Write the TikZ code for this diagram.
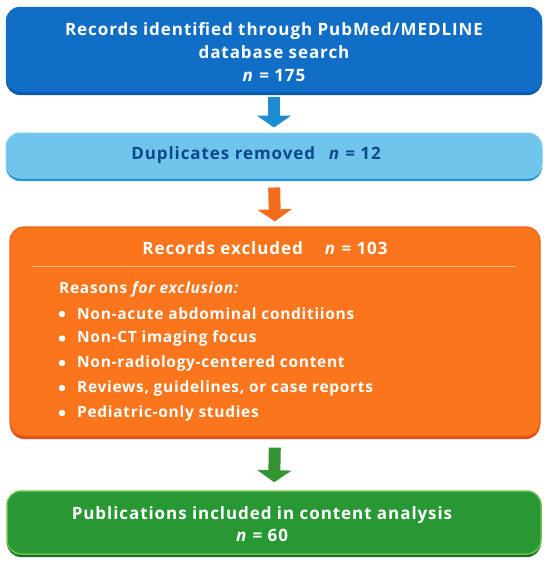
\documentclass[tikz,border=0pt]{standalone}
\usepackage{fontspec}
\setmainfont{Open Sans}
\newfontfamily\spaced{Open Sans}[LetterSpace=5.5]
\newfontfamily\spacedlist{Open Sans}[LetterSpace=4.5]
\usetikzlibrary{arrows.meta}
\definecolor{bluebox}{RGB}{16,110,198}
\definecolor{blueedge}{RGB}{10,88,168}
\definecolor{lightbox}{RGB}{112,197,236}
\definecolor{lightedge}{RGB}{40,150,214}
\definecolor{darkbluetext}{RGB}{14,72,140}
\definecolor{orangebox}{RGB}{250,117,28}
\definecolor{orangeline}{RGB}{238,96,30}
\definecolor{orangeedge}{RGB}{226,76,22}
\definecolor{sepline}{RGB}{253,190,140}
\definecolor{greenbox}{RGB}{40,152,52}
\definecolor{greenline}{RGB}{110,190,80}
\definecolor{greenedge}{RGB}{28,110,36}
\definecolor{arrowblue}{RGB}{30,140,208}
\definecolor{arroworange}{RGB}{244,108,30}
\definecolor{arrowgreen}{RGB}{52,148,50}
\tikzset{
  box/.style={rounded corners=14pt, minimum width=#1, inner sep=0pt},
  boxshadow/.style={preaction={fill=#1, transform canvas={yshift=-3pt}}},
  blockarrow/.style={line width=12pt, -{Triangle[width=34pt,length=12pt]}, draw=#1},
  titletext/.style={font=\spaced\fontsize{17}{23}\selectfont\bfseries, align=center},
  itemtext/.style={font=\spacedlist\fontsize{15.5}{18}\selectfont\bfseries, text=white, anchor=west, inner sep=0pt},
  bulletdot/.style={fill=white}
}
\begin{document}
\begin{tikzpicture}[x=1pt,y=-1pt]
\useasboundingbox (0,0) rectangle (550,565);
% boxes
\node[box=536pt, minimum height=85pt, fill=bluebox, draw=bluebox, boxshadow=blueedge] (b1) at (274,49.5) {};
\node[box=536pt, minimum height=45pt, fill=lightbox, draw=lightbox!90!white, line width=1pt, boxshadow=lightedge] (b2) at (274,155.5) {};
\node[box=530pt, minimum height=209pt, fill=orangebox, draw=orangeline, line width=1.2pt, boxshadow=orangeedge] (b3) at (275,331.5) {};
\node[box=534pt, minimum height=63pt, fill=greenbox, draw=greenline, line width=1.5pt, boxshadow=greenedge] (b4) at (274,522.5) {};
% texts
\node[titletext, text=white] (t1) at (274,52) {Records identified through PubMed/MEDLINE\\database search\\\textit{n} = 175};
\node[titletext, text=darkbluetext] (t2) at (256,155.5) {Duplicates removed\hspace{0.8em}\textit{n} = 12};
\node[titletext, text=white] (t3) at (265,248) {Records excluded\hspace{1.3em}\textit{n} = 103};
\draw[sepline, line width=1pt] (32,266) -- (516,266);
\node[itemtext] (r0) at (59,289) {Reasons \textit{for exclusion:}};
\node[itemtext] (i1) at (77,314) {Non-acute abdominal conditiions};
\node[itemtext] (i2) at (77,338.5) {Non-CT imaging focus};
\node[itemtext] (i3) at (77,363) {Non-radiology-centered content};
\node[itemtext] (i4) at (77,388) {Reviews, guidelines, or case reports};
\node[itemtext] (i5) at (77,413) {Pediatric-only studies};
\foreach \yy in {314,338.5,363,388,413} \fill[bulletdot] (62,\yy) circle (3.2pt);
\node[titletext, text=white, font=\spaced\fontsize{17}{22}\selectfont\bfseries] (t4) at (262,524) {Publications included in content analysis\\\textit{n} = 60};
% arrows
\draw[blockarrow=arrowblue, shorten <=5pt, shorten >=5pt] (b1.south) -- (b2.north);
\draw[blockarrow=arroworange, shorten <=9pt, shorten >=5pt] (b2.south) -- (b3.north);
\draw[blockarrow=arrowgreen, shorten <=11pt, shorten >=8pt] (b3.south) -- (b4.north);
\end{tikzpicture}
\end{document}
